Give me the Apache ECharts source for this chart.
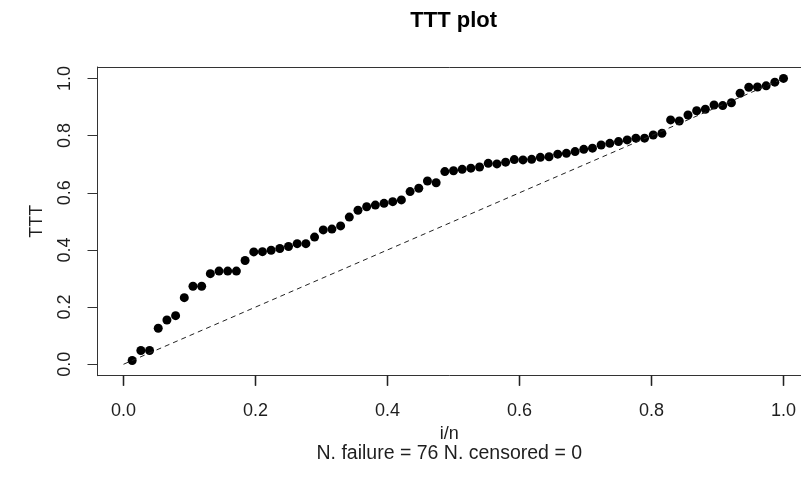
<!DOCTYPE html>
<html>
<head>
<meta charset="utf-8">
<script src="https://cdn.jsdelivr.net/npm/echarts@6/dist/echarts.min.js"></script>
<style>html,body{margin:0;padding:0;background:#fff;}#c{width:801px;height:491px;}</style>
</head>
<body>
<div id="c"></div>
<script>
// TTT values for i = 1..76 (x = i/n)
const nFailure = 76;
const nCensored = 0;
const tttValues = [
  0.013, 0.048, 0.048, 0.126, 0.155, 0.170, 0.233, 0.273, 0.273, 0.317,
  0.326, 0.326, 0.326, 0.363, 0.393, 0.394, 0.399, 0.405, 0.412, 0.422,
  0.422, 0.445, 0.470, 0.473, 0.484, 0.515, 0.539, 0.551, 0.557, 0.563,
  0.569, 0.575, 0.604, 0.616, 0.641, 0.635, 0.674, 0.677, 0.682, 0.686,
  0.690, 0.703, 0.701, 0.707, 0.716, 0.715, 0.717, 0.724, 0.726, 0.735,
  0.738, 0.744, 0.752, 0.756, 0.767, 0.773, 0.779, 0.785, 0.791, 0.791,
  0.802, 0.808, 0.855, 0.851, 0.872, 0.887, 0.892, 0.907, 0.905, 0.915,
  0.948, 0.969, 0.970, 0.974, 0.987, 1.000
];
const refLine = [[0, 0], [1, 1]];
const xTicks = [0, 0.2, 0.4, 0.6, 0.8, 1.0];
const yTicks = [0, 0.2, 0.4, 0.6, 0.8, 1.0];

const points = tttValues.map((v, k) => [(k + 1) / nFailure, v]);
const FONT = "'Liberation Sans', Arial, sans-serif";
const TXT = '#1e1e1e';
const BOX = '#333';
const X_MIN = -0.0394, X_MAX = 1.0265, Y_MIN = -0.04, Y_MAX = 1.04;

const chart = echarts.init(document.getElementById('c'), null, {renderer: 'canvas'});
chart.setOption({
  animation: false,
  backgroundColor: '#fff',
  title: {
    text: 'TTT plot',
    left: 453.7, top: 10, padding: 0, textAlign: 'center',
    textStyle: {fontFamily: FONT, fontWeight: 'bold', fontSize: 22, color: '#000'}
  },
  grid: {
    left: 97.5, right: 0, top: 67, bottom: 115.3,
    show: false
  },
  xAxis: {
    type: 'value', min: X_MIN, max: X_MAX,
    name: '{a|i/n}\n{b|N. failure = ' + nFailure + ' N. censored = ' + nCensored + '}',
    nameLocation: 'middle', nameGap: 46,
    nameTextStyle: {
      fontFamily: FONT, fontSize: 18, color: TXT,
      rich: {
        a: {fontFamily: FONT, fontSize: 18, color: TXT, lineHeight: 20, align: 'center'},
        b: {fontFamily: FONT, fontSize: 19.5, color: TXT, lineHeight: 21, align: 'center'}
      }
    },
    axisLine: {show: true, onZero: false, lineStyle: {color: BOX, width: 1}},
    splitLine: {show: false},
    axisTick: {show: true, inside: false, customValues: xTicks, length: 10, lineStyle: {color: '#222', width: 1.3}},
    axisLabel: {customValues: xTicks, margin: 26, fontFamily: FONT, fontSize: 18, color: TXT,
      formatter: v => v.toFixed(1)}
  },
  yAxis: {
    type: 'value', min: Y_MIN, max: Y_MAX,
    name: 'TTT', nameLocation: 'middle', nameGap: 51, nameRotate: 90,
    nameTextStyle: {fontFamily: FONT, fontSize: 18, color: TXT},
    axisLine: {show: true, onZero: false, lineStyle: {color: BOX, width: 1}},
    splitLine: {show: false},
    axisTick: {show: true, inside: false, customValues: yTicks, length: 10, lineStyle: {color: BOX, width: 1}},
    axisLabel: {customValues: yTicks, rotate: 90, margin: 23, fontFamily: FONT, fontSize: 18, color: TXT,
      formatter: v => v.toFixed(1)}
  },
  series: [
    {
      type: 'line', data: refLine, symbol: 'none', silent: true,
      lineStyle: {color: '#222', width: 1, type: [5, 4]},
      markLine: {
        silent: true, symbol: 'none', label: {show: false},
        lineStyle: {color: BOX, width: 1, type: 'solid'},
        data: [{yAxis: Y_MAX}]
      }
    },
    {
      // x-axis tick marks below the frame
      type: 'scatter', silent: true, clip: false, z: 5,
      data: xTicks.map(t => [t, Y_MIN]),
      symbol: 'rect', symbolSize: [1.3, 10], symbolOffset: [0, 5],
      itemStyle: {color: '#222', opacity: 1}
    },
    {
      type: 'scatter', data: points, symbol: 'circle', symbolSize: 9,
      itemStyle: {color: '#000', opacity: 1}
    }
  ]
});
</script>
</body>
</html>
